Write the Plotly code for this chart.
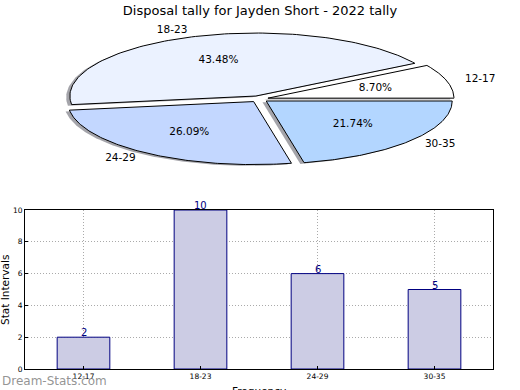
import numpy as np
import plotly.graph_objects as go

title = "Disposal tally for Jayden Short - 2022 tally"
categories = ["12-17", "18-23", "24-29", "30-35"]
counts = [2, 10, 6, 5]
slice_colors = ["#ffffff", "#ebf2ff", "#c3d7ff", "#b3d6ff"]
y_ticks = [0, 2, 4, 6, 8, 10]

explode = 0.05
shadow_off = (-0.02, -0.02)

fig = go.Figure()

total = sum(counts)
fracs = [c / total for c in counts]
starts = np.concatenate([[0], np.cumsum(fracs)[:-1]]) * 360
ends = np.cumsum(fracs) * 360

def wedge(t1, t2, cx, cy):
    th = np.radians(np.linspace(t1, t2, 120))
    xs = np.concatenate([[cx], cx + np.cos(th), [cx]])
    ys = np.concatenate([[cy], cy + np.sin(th), [cy]])
    return xs, ys

centers = []
for t1, t2 in zip(starts, ends):
    mid = np.radians((t1 + t2) / 2)
    centers.append((explode * np.cos(mid), explode * np.sin(mid), mid))

# shadows
for (cx, cy, mid), t1, t2 in zip(centers, starts, ends):
    xs, ys = wedge(t1, t2, cx + shadow_off[0], cy + shadow_off[1])
    fig.add_trace(go.Scatter(x=xs, y=ys, mode="lines", fill="toself",
                             fillcolor="rgba(90,90,100,0.55)", line=dict(width=0),
                             xaxis="x2", yaxis="y2", hoverinfo="skip", showlegend=False))
# wedges
for (cx, cy, mid), t1, t2, col in zip(centers, starts, ends, slice_colors):
    xs, ys = wedge(t1, t2, cx, cy)
    fig.add_trace(go.Scatter(x=xs, y=ys, mode="lines", fill="toself",
                             fillcolor=col, line=dict(width=1, color="black"),
                             xaxis="x2", yaxis="y2", hoverinfo="skip", showlegend=False))

# labels
for (cx, cy, mid), cat, fr in zip(centers, categories, fracs):
    lx = cx + 1.1 * np.cos(mid)
    ly = cy + 1.1 * np.sin(mid)
    fig.add_trace(go.Scatter(x=[lx], y=[ly], mode="text", text=[cat],
                             textposition="middle right" if lx > 0 else "middle left",
                             textfont=dict(size=10.5, color="black", family="DejaVu Sans"),
                             xaxis="x2", yaxis="y2", hoverinfo="skip", showlegend=False))
    px_ = cx + 0.6 * np.cos(mid)
    py_ = cy + 0.6 * np.sin(mid)
    fig.add_trace(go.Scatter(x=[px_], y=[py_], mode="text", text=[f"{fr*100:.2f}%"],
                             textposition="middle center",
                             textfont=dict(size=10.5, color="black", family="DejaVu Sans"),
                             xaxis="x2", yaxis="y2", hoverinfo="skip", showlegend=False))

# bars
xpos = list(range(len(categories)))
fig.add_trace(go.Bar(x=xpos, y=counts, width=0.45,
                     marker=dict(color="#ccccE4", line=dict(color="#000080", width=1)),
                     xaxis="x", yaxis="y", showlegend=False))

rx, ry = 186.0, 63.0
cxp, cyp = 259.0, 99.0
pie_h = 195.0

grid = dict(showgrid=True, gridcolor="#aaaaaa", griddash="1px,2px", gridwidth=1)

annotations = [
    dict(text=str(c), x=i, y=c, xref="x", yref="y", showarrow=False,
         xanchor="center", yanchor="bottom", yshift=-3,
         font=dict(size=10, color="#000080", family="DejaVu Sans"))
    for i, c in zip(xpos, counts)
]
annotations += [
    dict(text="Stat Intervals", x=5 / 520, y=(390 - 290) / 390,
         xref="paper", yref="paper", textangle=-90, showarrow=False,
         xanchor="center", yanchor="middle", font=dict(size=10.5, color="black")),
    dict(text="Frequency", x=259 / 520, y=(390 - 383) / 390, xref="paper", yref="paper",
         showarrow=False, xanchor="center", yanchor="top", font=dict(size=10.5, color="black")),
    dict(text="Dream-Stats.com", x=0, y=(390 - 381) / 390, xref="paper", yref="paper",
         showarrow=False, xanchor="left", yanchor="middle",
         font=dict(size=12, color="rgba(120,120,120,0.8)")),
]

fig.update_layout(
    width=520, height=390,
    margin=dict(l=0, r=0, t=0, b=0, autoexpand=False),
    paper_bgcolor="white", plot_bgcolor="white",
    font=dict(family="DejaVu Sans", color="black"),
    title=dict(text=title, x=0.5, xanchor="center", y=1 - 10 / 390, yanchor="middle",
               automargin=False,
               font=dict(size=13, family="DejaVu Sans", color="black")),
    xaxis2=dict(domain=[0, 1], range=[-cxp / rx, (520 - cxp) / rx], visible=False,
                anchor="y2", fixedrange=True, automargin=False),
    yaxis2=dict(domain=[0.5, 1], range=[-(pie_h - cyp) / ry, cyp / ry], visible=False,
                anchor="x2", fixedrange=True, automargin=False),
    xaxis=dict(domain=[25 / 520, 493 / 520], range=[-0.5, 3.5], anchor="y",
               tickmode="array", tickvals=xpos, ticktext=categories,
               showline=True, linecolor="black", linewidth=1, mirror=True,
               ticks="inside", ticklen=3, tickcolor="black", automargin=False,
               tickfont=dict(size=7.5, color="black"), zeroline=False, **grid),
    yaxis=dict(domain=[21 / 390, 180 / 390], range=[0, 10], anchor="x",
               tickmode="array", tickvals=y_ticks,
               showline=True, linecolor="black", linewidth=1, mirror=True,
               ticks="inside", ticklen=3, tickcolor="black", automargin=False,
               tickfont=dict(size=7.5, color="black"), zeroline=False, **grid),
    annotations=annotations,
)

fig.write_html("out.html", config={"displayModeBar": False},
               post_script="document.body.style.margin='0';document.body.style.overflow='hidden';")
